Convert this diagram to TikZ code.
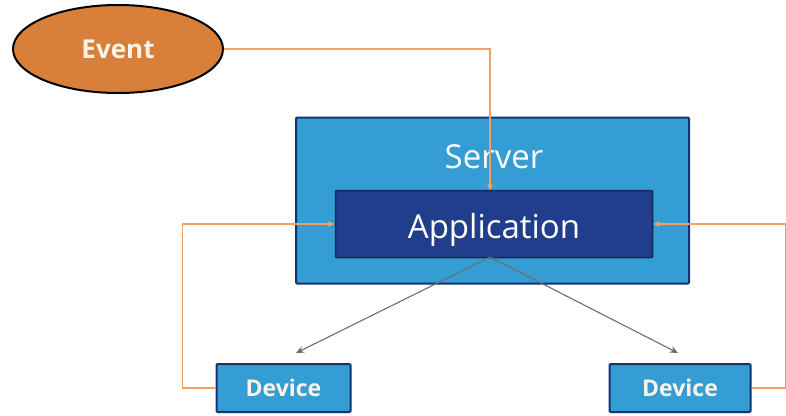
\documentclass[tikz,border=0pt]{standalone}
\usepackage{fontspec}
\setmainfont{Open Sans}
\usetikzlibrary{shapes.geometric,arrows.meta}
\definecolor{evorange}{RGB}{216,128,58}
\definecolor{lineorange}{RGB}{240,160,96}
\definecolor{lightblue}{RGB}{52,158,212}
\definecolor{navy}{RGB}{22,50,110}
\definecolor{appblue}{RGB}{32,62,140}
\definecolor{arrowgrey}{RGB}{110,110,110}
\definecolor{cream}{RGB}{252,244,232}
\tikzset{
  evnode/.style={ellipse, draw=black, line width=2pt, fill=evorange, text=cream, font=\bfseries\fontsize{26}{30}\selectfont, minimum width=210pt, minimum height=88pt, inner sep=0pt},
  serverbox/.style={draw=navy, line width=2pt, fill=lightblue, minimum width=393pt, minimum height=166pt, inner sep=0pt, rounded corners=1pt},
  appbox/.style={draw=navy!80!black, line width=1.5pt, fill=appblue, text=white, font=\fontsize{33}{38}\selectfont, minimum width=317pt, minimum height=67pt, inner sep=0pt, rounded corners=1pt, text height=28pt, text depth=0pt},
  devbox/.style={draw=navy, line width=2pt, fill=lightblue, text=cream, font=\bfseries\fontsize{23}{27}\selectfont, minimum height=48pt, inner sep=0pt, rounded corners=1pt},
  olink/.style={draw=lineorange, line width=1.2pt, -{Stealth[length=7pt,width=6pt]}},
  glink/.style={draw=arrowgrey, line width=1.1pt, -{Stealth[length=8pt,width=7pt]}},
}
\begin{document}
\begin{tikzpicture}[x=1pt,y=-1pt]
\useasboundingbox (0,0) rectangle (786,415);
\node[evnode] (event) at (118,49) {Event};
\node[serverbox] (server) at (492.5,200.5) {};
\node[text=white, font=\fontsize{33}{38}\selectfont] (servertxt) at (494,157) {Server};
\node[appbox] (app) at (494,224) {Application};
\node[devbox, minimum width=134pt] (dev1) at (283.5,388) {Device};
\node[devbox, minimum width=141pt] (dev2) at (680,388) {Device};
\coordinate (appbot) at (490,257);
\coordinate (g1) at (296,353);
\coordinate (g2) at (678,353);
\draw[olink] (event.east) -| (490,190.5);
\draw[olink] (dev1.west) -- ++(-33,0) |- (app.west);
\draw[olink] (dev2.east) -- ++(34,0) |- (app.east);
\draw[glink] (appbot) -- (g1);
\draw[glink] (appbot) -- (g2);
\end{tikzpicture}
\end{document}
